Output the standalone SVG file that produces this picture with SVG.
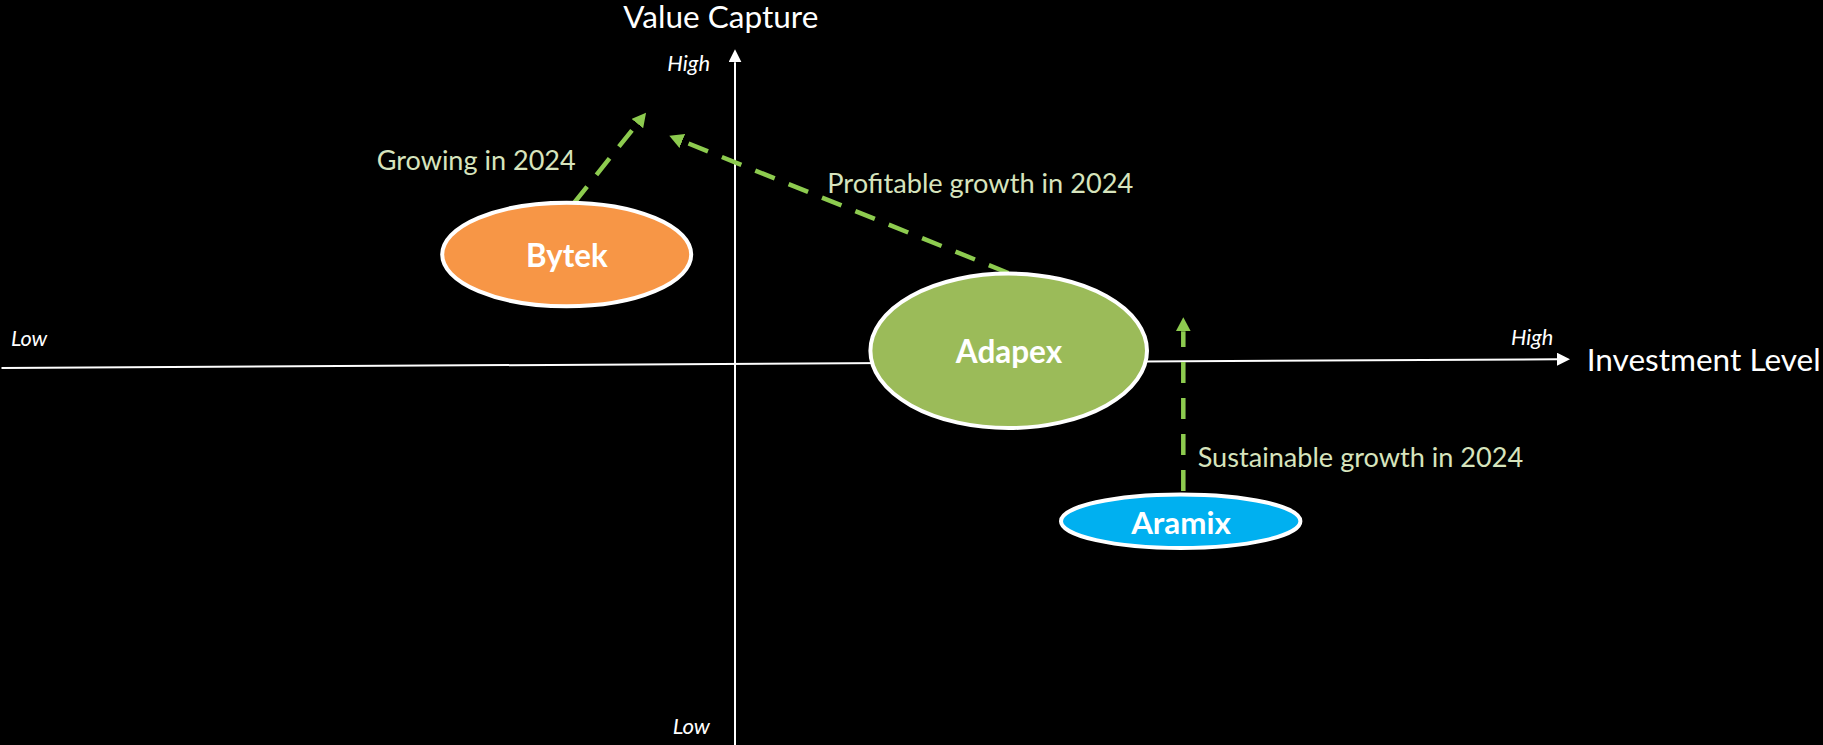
<svg xmlns="http://www.w3.org/2000/svg" width="1823" height="745" viewBox="0 0 1823 745">
  <style>
    .axis { stroke: #ffffff; stroke-width: 2; fill: none; }
    .conn { stroke: #8DCB4F; stroke-width: 4.5; fill: none; stroke-dasharray: 21 15; }
    .node { stroke: #ffffff; stroke-width: 4; }
    .title { font-family: Lato, "Open Sans", sans-serif; font-size: 31px; fill: #ffffff; }
    .tick { font-family: Lato, "Open Sans", sans-serif; font-style: italic; font-size: 21px; fill: #ffffff; }
    .lbl { font-family: Lato, "Open Sans", sans-serif; font-size: 26px; fill: #D7E4BD; }
    .name { font-family: Lato, "Open Sans", sans-serif; font-weight: bold; fill: #ffffff; text-anchor: middle; }
  </style>
  <defs>
    <marker id="wArrow" markerUnits="userSpaceOnUse" markerWidth="13" markerHeight="13" refX="0" refY="6.5" orient="auto">
      <path d="M0,0 L13,6.5 L0,13 z" fill="#ffffff"/>
    </marker>
    <marker id="gArrow" markerUnits="userSpaceOnUse" markerWidth="14" markerHeight="15" refX="0" refY="7.5" orient="auto">
      <path d="M0,0 L14,7.5 L0,15 z" fill="#8DCB4F"/>
    </marker>
  </defs>
  <rect x="0" y="0" width="1823" height="745" fill="#000000"/>

  <g id="axes">
    <line class="axis" x1="735" y1="745" x2="735" y2="62.3" marker-end="url(#wArrow)"/>
    <line class="axis" x1="1.5" y1="368" x2="1557" y2="359.2" marker-end="url(#wArrow)"/>
    <text class="title" x="623.3" y="28.3" textLength="195" lengthAdjust="spacingAndGlyphs">Value Capture</text>
    <text class="title" x="1586.7" y="371" textLength="234" lengthAdjust="spacingAndGlyphs">Investment Level</text>
    <text class="tick" x="667.3" y="70.7" textLength="42.7" lengthAdjust="spacingAndGlyphs">High</text>
    <text class="tick" x="672.7" y="734.3" textLength="37.3" lengthAdjust="spacingAndGlyphs">Low</text>
    <text class="tick" x="11" y="345.7" textLength="36.3" lengthAdjust="spacingAndGlyphs">Low</text>
    <text class="tick" x="1511" y="345" textLength="42.3" lengthAdjust="spacingAndGlyphs">High</text>
  </g>

  <g id="connectors">
    <path class="conn" d="M574,203 L637.3,123.6" marker-end="url(#gArrow)"/>
    <path class="conn" d="M1008.3,273 L682.3,141" marker-end="url(#gArrow)"/>
    <path class="conn" d="M1183.3,491 L1183.3,331.3" marker-end="url(#gArrow)"/>
    <text class="lbl" x="376.7" y="170" textLength="199" lengthAdjust="spacingAndGlyphs">Growing in 2024</text>
    <text class="lbl" x="827.3" y="193.3" textLength="306" lengthAdjust="spacingAndGlyphs">Profitable growth in 2024</text>
    <text class="lbl" x="1197.7" y="466.7" textLength="325.6" lengthAdjust="spacingAndGlyphs">Sustainable growth in 2024</text>
  </g>

  <g id="node-bytek">
    <ellipse class="node" cx="566.7" cy="254.5" rx="124.5" ry="51.8" fill="#F79646"/>
    <text class="name" x="566.8" y="267.3" font-size="31.5" textLength="81.7" lengthAdjust="spacingAndGlyphs">Bytek</text>
  </g>
  <g id="node-adapex">
    <ellipse class="node" cx="1008.7" cy="350.8" rx="138.3" ry="77.2" fill="#9BBB59"/>
    <text class="name" x="1009" y="362.7" font-size="31.5" textLength="106.3" lengthAdjust="spacingAndGlyphs">Adapex</text>
  </g>
  <g id="node-aramix">
    <ellipse class="node" cx="1180.7" cy="521.2" rx="119.7" ry="26.8" fill="#00B0F0"/>
    <text class="name" x="1181" y="534" font-size="30.5" textLength="99.7" lengthAdjust="spacingAndGlyphs">Aramix</text>
  </g>
</svg>
